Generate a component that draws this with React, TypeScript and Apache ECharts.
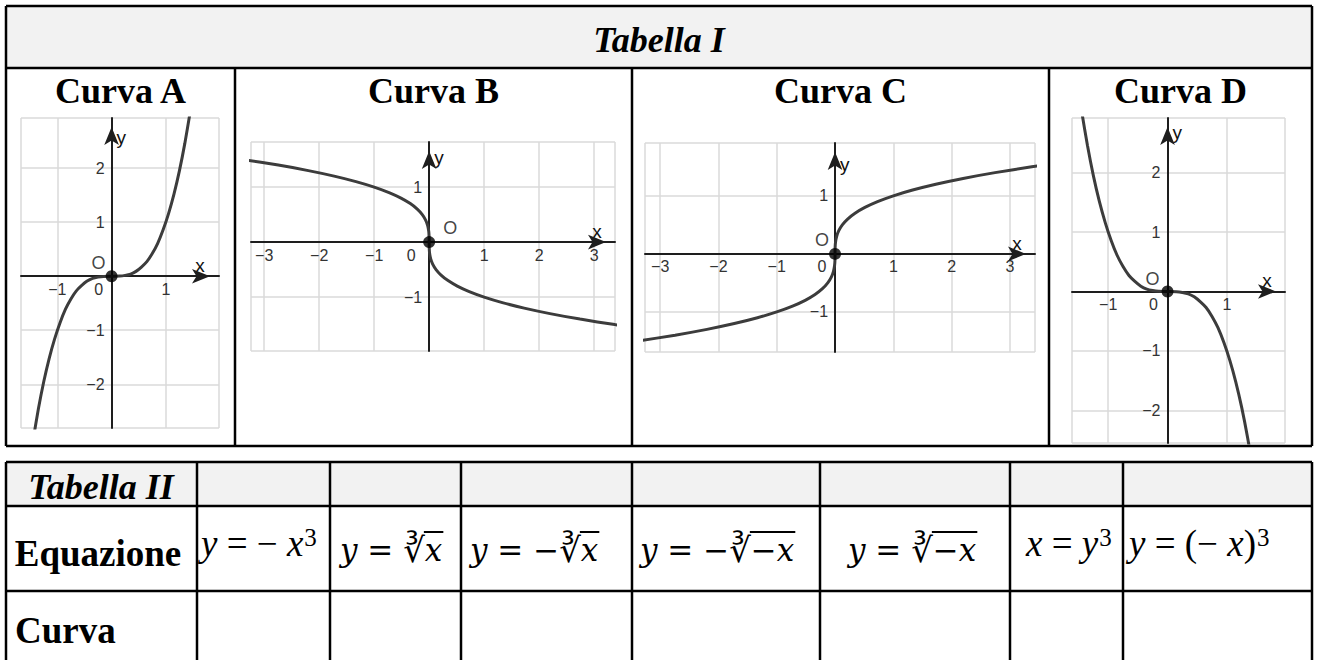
import { useEffect, useRef } from 'react';
import * as echarts from 'echarts';

// ---------------- Data ----------------
const TITLE_I = 'Tabella I';
const CURVE_TITLES = ['Curva A', 'Curva B', 'Curva C', 'Curva D'];
const TITLE_II = 'Tabella II';
const ROW_LABELS = ['Equazione', 'Curva'];
const AXIS_X_NAME = 'x';
const AXIS_Y_NAME = 'y';
const ORIGIN = [0, 0];
const ORIGIN_LABEL = 'O';

// Curva A (y = x^3) and Curva D (y = -x^3): sampled points
const CUBIC_X = [-1.45, -1.35, -1.25, -1.15, -1.05, -0.95, -0.85, -0.75, -0.65, -0.55, -0.45, -0.35, -0.25, -0.15, 0, 0.15, 0.25, 0.35, 0.45, 0.55, 0.65, 0.75, 0.85, 0.95, 1.05, 1.15, 1.25, 1.35, 1.45];
const CURVE_A_Y = [-3.05, -2.46, -1.95, -1.52, -1.16, -0.86, -0.61, -0.42, -0.27, -0.17, -0.09, -0.04, -0.016, -0.003, 0, 0.003, 0.016, 0.04, 0.09, 0.17, 0.27, 0.42, 0.61, 0.86, 1.16, 1.52, 1.95, 2.46, 3.05];
const CURVE_D_Y = [3.05, 2.46, 1.95, 1.52, 1.16, 0.86, 0.61, 0.42, 0.27, 0.17, 0.09, 0.04, 0.016, 0.003, 0, -0.003, -0.016, -0.04, -0.09, -0.17, -0.27, -0.42, -0.61, -0.86, -1.16, -1.52, -1.95, -2.46, -3.05];

// Curva B (y = -cbrt(x)) and Curva C (y = cbrt(x)): sampled points
const CURVE_B_X = [-3.72, -3.375, -2.744, -2.197, -1.728, -1.331, -1, -0.729, -0.512, -0.343, -0.216, -0.125, -0.064, -0.027, -0.008, -0.001, 0, 0.001, 0.008, 0.027, 0.064, 0.125, 0.216, 0.343, 0.512, 0.729, 1, 1.331, 1.728, 2.197, 2.744, 3.375, 3.72];
const CURVE_B_Y = [1.55, 1.5, 1.4, 1.3, 1.2, 1.1, 1, 0.9, 0.8, 0.7, 0.6, 0.5, 0.4, 0.3, 0.2, 0.1, 0, -0.1, -0.2, -0.3, -0.4, -0.5, -0.6, -0.7, -0.8, -0.9, -1, -1.1, -1.2, -1.3, -1.4, -1.5, -1.55];
const CURVE_C_X = [-3.72, -3.375, -2.744, -2.197, -1.728, -1.331, -1, -0.729, -0.512, -0.343, -0.216, -0.125, -0.064, -0.027, -0.008, -0.001, 0, 0.001, 0.008, 0.027, 0.064, 0.125, 0.216, 0.343, 0.512, 0.729, 1, 1.331, 1.728, 2.197, 2.744, 3.375, 3.72];
const CURVE_C_Y = [-1.55, -1.5, -1.4, -1.3, -1.2, -1.1, -1, -0.9, -0.8, -0.7, -0.6, -0.5, -0.4, -0.3, -0.2, -0.1, 0, 0.1, 0.2, 0.3, 0.4, 0.5, 0.6, 0.7, 0.8, 0.9, 1, 1.1, 1.2, 1.3, 1.4, 1.5, 1.55];

// Visible axis ranges of each small graph
const X_EXTENTS = [[-1.67, 1.98], [-3.24, 3.38], [-3.26, 3.43], [-1.61, 1.98]];
const Y_EXTENTS = [[-2.81, 2.93], [-1.98, 1.82], [-1.69, 1.91], [-2.55, 2.92]];

// Equations of Tabella II (token kind, text)
const EQUATIONS: [string, string][][] = [
  [['i', 'y'], ['r', ' = − '], ['i', 'x'], ['s', '3']],
  [['m', 'y'], ['n', ' = '], ['q', '∛'], ['o', 'x']],
  [['m', 'y'], ['n', ' = −'], ['q', '∛'], ['o', 'x']],
  [['m', 'y'], ['n', ' = −'], ['q', '∛'], ['p', '−'], ['o', 'x']],
  [['m', 'y'], ['n', ' = '], ['q', '∛'], ['p', '−'], ['o', 'x']],
  [['i', 'x'], ['r', ' = '], ['i', 'y'], ['s', '3']],
  [['i', 'y'], ['r', ' = (− '], ['i', 'x'], ['r', ')'], ['s', '3']],
];

// ---------------- Layout ----------------
const PANELS = [
  { grid: { left: 21, top: 118, width: 198, height: 310 }, oOffset: [-13, -13], xGap: -19, yGap: -19, zeroShift: 26 },
  { grid: { left: 251, top: 142, width: 364, height: 209 }, oOffset: [21, -14], xGap: -18, yGap: -15, zeroShift: 36 },
  { grid: { left: 645, top: 143, width: 390, height: 209 }, oOffset: [-13, -14], xGap: -18, yGap: -21, zeroShift: 26 },
  { grid: { left: 1072, top: 118, width: 213, height: 325 }, oOffset: [-15, -12], xGap: -18, yGap: -14, zeroShift: 28 },
];
const T1 = { left: 6, right: 1312, top: 6, headBottom: 68, bottom: 446, cols: [235, 632, 1049] };
const T2 = { left: 6, right: 1312, top: 462, rows: [506, 591], bottom: 664, cols: [197, 330, 461, 632, 820, 1010, 1123] };
const EQ_X = [201, 340, 470, 640, 848, 1026, 1129];
const EQ_Y = [543, 550, 550, 550, 550, 543, 543];

const RICH: Record<string, any> = {
  i: { fontFamily: 'Liberation Serif', fontSize: 37, fontStyle: 'italic', fill: '#000' },
  r: { fontFamily: 'Liberation Serif', fontSize: 37, fontStyle: 'normal', fill: '#000' },
  s: { fontFamily: 'Liberation Serif', fontSize: 25, fontStyle: 'normal', fill: '#000', verticalAlign: 'top', padding: [0, 0, 0, 1] },
  m: { fontFamily: 'DejaVu Serif', fontSize: 31, fontStyle: 'italic', fill: '#000' },
  n: { fontFamily: 'DejaVu Serif', fontSize: 31, fontStyle: 'normal', fill: '#000' },
  q: { fontFamily: 'DejaVu Sans', fontSize: 34, fontStyle: 'normal', fill: '#000' },
  o: { fontFamily: 'DejaVu Serif', fontSize: 31, fontStyle: 'italic', fill: '#000' },
  p: { fontFamily: 'DejaVu Serif', fontSize: 31, fontStyle: 'normal', fill: '#000' },
};

let measureCtx: CanvasRenderingContext2D | null = null;
function textWidth(text: string, s: any) {
  if (!measureCtx) measureCtx = document.createElement('canvas').getContext('2d');
  measureCtx!.font = `${s.fontStyle || 'normal'} normal ${s.fontSize}px ${s.fontFamily}`;
  const pad = s.padding ? (s.padding[1] || 0) + (s.padding[3] || 0) : 0;
  return measureCtx!.measureText(text).width + pad;
}

const minus = (v: number) => (v < 0 ? '−' + Math.abs(v) : String(v));

function buildOption() {
  const curves = [
    CUBIC_X.map((x, i) => [x, CURVE_A_Y[i]]),
    CURVE_B_X.map((x, i) => [x, CURVE_B_Y[i]]),
    CURVE_C_X.map((x, i) => [x, CURVE_C_Y[i]]),
    CUBIC_X.map((x, i) => [x, CURVE_D_Y[i]]),
  ];

  const axisLine = {
    onZero: false,
    lineStyle: { color: '#1e1e1e', width: 2 },
    symbol: ['none', 'arrow'],
    symbolSize: [11, 18],
    symbolOffset: [0, -9],
  };
  const splitLine = { show: true, lineStyle: { color: '#dadada', width: 1.5 } };
  const labelBase = { fontSize: 16, color: '#333', fontFamily: 'Liberation Sans' };
  const nameBase = { fontSize: 19, color: '#111', fontFamily: 'Liberation Sans' };

  const grid = PANELS.map((p) => ({ ...p.grid, containLabel: false, outerBoundsMode: 'none' }));
  // axes are shifted (in pixels) so that they cross at the origin
  const xAxis = PANELS.map((p, i) => {
    const [y0, y1] = Y_EXTENTS[i];
    const off = -((0 - y0) / (y1 - y0)) * p.grid.height;
    return {
      type: 'value',
      gridIndex: i,
      position: 'bottom',
      offset: off,
      min: X_EXTENTS[i][0],
      max: X_EXTENTS[i][1],
      minInterval: 1,
      maxInterval: 1,
      axisLine,
      axisTick: { show: false },
      splitLine,
      axisLabel: {
        ...labelBase,
        margin: 5,
        formatter: (v: number) => (Number.isInteger(v) ? (v === 0 ? '{z|0}' : minus(v)) : ''),
        rich: { z: { ...labelBase, padding: [0, p.zeroShift, 0, 0] } },
      },
      name: AXIS_X_NAME,
      nameLocation: 'end',
      nameGap: p.xGap,
      nameTextStyle: { ...nameBase, align: 'center', verticalAlign: 'bottom', padding: [0, 0, 1, 0] },
    };
  });
  const yAxis = PANELS.map((p, i) => {
    const [x0, x1] = X_EXTENTS[i];
    const off = -((0 - x0) / (x1 - x0)) * p.grid.width;
    return {
      type: 'value',
      gridIndex: i,
      position: 'left',
      offset: off,
      min: Y_EXTENTS[i][0],
      max: Y_EXTENTS[i][1],
      minInterval: 1,
      maxInterval: 1,
      axisLine,
      axisTick: { show: false },
      splitLine,
      axisLabel: {
        ...labelBase,
        margin: 7,
        formatter: (v: number) => (Number.isInteger(v) && v !== 0 ? minus(v) : ''),
      },
      name: AXIS_Y_NAME,
      nameLocation: 'end',
      nameGap: p.yGap,
      nameTextStyle: { ...nameBase, align: 'left', verticalAlign: 'middle', padding: [0, 0, 0, 5] },
    };
  });

  const series: any[] = [];
  curves.forEach((data, i) => {
    series.push({
      type: 'line',
      xAxisIndex: i,
      yAxisIndex: i,
      data,
      symbol: 'none',
      showSymbol: false,
      smooth: 0.25,
      clip: true,
      silent: true,
      lineStyle: { color: '#3c3c3c', width: 3 },
      z: 3,
    });
    series.push({
      type: 'scatter',
      xAxisIndex: i,
      yAxisIndex: i,
      data: [ORIGIN],
      symbolSize: 12,
      silent: true,
      itemStyle: { color: '#000' },
      z: 4,
      label: {
        show: true,
        formatter: ORIGIN_LABEL,
        position: 'inside',
        offset: PANELS[i].oOffset,
        fontSize: 18,
        color: '#111',
        fontFamily: 'Liberation Sans',
      },
    });
  });

  // ---- tables drawn with graphic elements ----
  const g: any[] = [];
  const line = (x1: number, y1: number, x2: number, y2: number) =>
    g.push({ type: 'line', shape: { x1, y1, x2, y2 }, style: { stroke: '#000', lineWidth: 2.5 }, z: 10 });
  const text = (t: string, x: number, y: number, o: any) =>
    g.push({
      type: 'text',
      x,
      y,
      z: 10,
      style: {
        text: t,
        fill: '#000',
        fontFamily: 'Liberation Serif',
        fontWeight: 'bold',
        align: 'center',
        verticalAlign: 'middle',
        ...o,
      },
    });

  // Tabella I
  g.push({ type: 'rect', shape: { x: T1.left, y: T1.top, width: T1.right - T1.left, height: T1.headBottom - T1.top }, style: { fill: '#f2f2f2' }, z: 1 });
  line(T1.left, T1.top, T1.right, T1.top);
  line(T1.left, T1.headBottom, T1.right, T1.headBottom);
  line(T1.left, T1.bottom, T1.right, T1.bottom);
  line(T1.left, T1.top, T1.left, T1.bottom);
  line(T1.right, T1.top, T1.right, T1.bottom);
  T1.cols.forEach((c) => line(c, T1.headBottom, c, T1.bottom));
  text(TITLE_I, (T1.left + T1.right) / 2, 40, { fontSize: 36, fontStyle: 'italic' });
  const edges1 = [T1.left, ...T1.cols, T1.right];
  CURVE_TITLES.forEach((t, i) => text(t, (edges1[i] + edges1[i + 1]) / 2, 91, { fontSize: 36 }));

  // Tabella II
  g.push({ type: 'rect', shape: { x: T2.left, y: T2.top, width: T2.right - T2.left, height: T2.rows[0] - T2.top }, style: { fill: '#f2f2f2' }, z: 1 });
  line(T2.left, T2.top, T2.right, T2.top);
  T2.rows.forEach((r) => line(T2.left, r, T2.right, r));
  [T2.left, ...T2.cols, T2.right].forEach((c) => line(c, T2.top, c, T2.bottom));
  text(TITLE_II, 101, 487, { fontSize: 36, fontStyle: 'italic' });
  text(ROW_LABELS[0], 98, 553, { fontSize: 37 });
  text(ROW_LABELS[1], 15, 630, { fontSize: 37, align: 'left' });

  EQUATIONS.forEach((tokens, k) => {
    const x0 = EQ_X[k];
    const y0 = EQ_Y[k];
    g.push({
      type: 'text',
      x: x0,
      y: y0,
      z: 10,
      style: {
        text: tokens.map(([kind, t]) => `{${kind}|${t}}`).join(''),
        rich: RICH,
        align: 'left',
        verticalAlign: 'middle',
        fill: '#000',
      },
    });
    // vinculum over the radicand
    let cx = x0;
    let start = -1;
    let end = -1;
    tokens.forEach(([kind, t]) => {
      const w = textWidth(t, RICH[kind]);
      if (kind === 'o' || kind === 'p') {
        if (start < 0) start = cx;
        end = cx + w;
      }
      cx += w;
    });
    if (start >= 0) {
      g.push({ type: 'line', shape: { x1: start - 1, y1: y0 - 18, x2: end + 1, y2: y0 - 18 }, style: { stroke: '#000', lineWidth: 2 }, z: 10 });
    }
  });

  return {
    animation: false,
    backgroundColor: '#ffffff',
    grid,
    xAxis,
    yAxis,
    series,
    graphic: { elements: g },
  };
}

export default function App() {
  const ref = useRef<HTMLDivElement>(null);
  useEffect(() => {
    if (!ref.current) return;
    const chart = echarts.init(ref.current, null, { renderer: 'svg' });
    chart.setOption(buildOption() as any);
    return () => chart.dispose();
  }, []);
  return (
    <div
      ref={ref}
      style={{ position: 'fixed', left: 0, top: 0, width: 1318, height: 660, background: '#fff' }}
    />
  );
}
